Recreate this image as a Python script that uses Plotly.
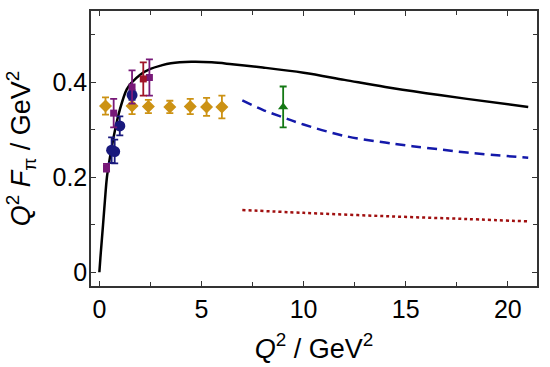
import plotly.graph_objects as go

# Theory curves
curve_x = [0, 0.05, 0.1, 0.18, 0.27, 0.37, 0.5, 0.77, 1.0, 1.34, 1.6, 2.0, 2.5, 3.0, 3.5, 4.5, 5.5, 6.5, 8, 10, 12, 14, 16, 18, 21]
curve_y = [0, 0.03, 0.057, 0.1, 0.15, 0.2, 0.237, 0.3, 0.342, 0.385, 0.4, 0.416, 0.428, 0.435, 0.44, 0.443, 0.442, 0.438, 0.431, 0.42, 0.405, 0.39, 0.377, 0.365, 0.348]

dash_x = [7, 8, 9, 10, 12, 14, 15, 16, 18, 21]
dash_y = [0.362, 0.342, 0.326, 0.311, 0.287, 0.273, 0.267, 0.262, 0.252, 0.241]

dot_x = [7, 10, 14, 18, 21]
dot_y = [0.131, 0.125, 0.118, 0.112, 0.107]

# Data sets
gold_x = [0.3, 1.6, 2.4, 3.45, 4.45, 5.25, 6.0]
gold_y = [0.35, 0.35, 0.349, 0.348, 0.349, 0.348, 0.348]
gold_e = [0.018, 0.017, 0.014, 0.013, 0.016, 0.019, 0.024]

purple_x = [0.35, 0.7, 1.6, 2.45]
purple_y = [0.22, 0.335, 0.39, 0.41]
purple_e = [0.008, 0.03, 0.035, 0.038]

red_x = [2.15]
red_y = [0.407]
red_e = [0.035]

navy_x = [0.6, 0.75, 1.0, 1.6]
navy_y = [0.257, 0.254, 0.308, 0.373]
navy_e = [0.027, 0.025, 0.02, 0.01]

green_x = [9.0]
green_y = [0.348]
green_e = [0.043]

GOLD = "rgb(204,146,20)"
PURPLE = "rgb(120,25,120)"
RED = "rgb(160,20,40)"
NAVY = "rgb(25,25,125)"
GREEN = "rgb(20,120,20)"

fig = go.Figure()

fig.add_trace(go.Scatter(x=dot_x, y=dot_y, mode="lines", line=dict(color="rgb(160,15,15)", width=2.5, dash="3px,3px", shape="spline")))
fig.add_trace(go.Scatter(x=dash_x, y=dash_y, mode="lines", line=dict(color="rgb(20,25,170)", width=2.5, dash="10px,6px", shape="spline")))
fig.add_trace(go.Scatter(x=curve_x, y=curve_y, mode="lines", line=dict(color="black", width=2.5, shape="spline")))

def pts(x, y, e, color, symbol, size):
    return go.Scatter(
        x=x, y=y, mode="markers",
        marker=dict(color=color, symbol=symbol, size=size, line=dict(width=0)),
        error_y=dict(type="data", array=e, visible=True, color=color, thickness=1.8, width=3.5),
    )

fig.add_trace(pts(gold_x, gold_y, gold_e, GOLD, "diamond", 10))
fig.add_trace(pts(navy_x, navy_y, navy_e, NAVY, "circle", 11))
fig.add_trace(pts(purple_x, purple_y, purple_e, PURPLE, "square", 7))
fig.add_trace(pts(red_x, red_y, red_e, RED, "square", 7))
fig.add_trace(pts(green_x, green_y, green_e, GREEN, "triangle-up", 9))

FAM = "Liberation Sans, Arial, sans-serif"
font = dict(family=FAM, size=25, color="black")

axis_common = dict(
    showgrid=False, zeroline=False, showline=True, linecolor="#333", linewidth=1.5,
    mirror="ticks", ticks="inside", ticklen=5, tickwidth=1.3, tickcolor="#333",
    tickfont=font, automargin=False,
)

fig.update_layout(
    width=550, height=367,
    margin=dict(l=91, r=13, t=11, b=81),
    paper_bgcolor="white", plot_bgcolor="white",
    showlegend=False,
    font=font,
    xaxis=dict(
        range=[-0.41, 21.43], tickvals=[0, 5, 10, 15, 20],
        minor=dict(ticks="inside", tickvals=[2.5, 7.5, 12.5, 17.5], ticklen=4, tickwidth=1.3, tickcolor="#333"),
        title=dict(text="<i>Q</i><sup>2</sup> / GeV<sup>2</sup>", font=dict(family=FAM, size=27), standoff=17),
        **axis_common,
    ),
    yaxis=dict(
        range=[-0.029, 0.55], tickvals=[0, 0.2, 0.4], ticktext=["0", "0.2", "0.4"],
        minor=dict(ticks="inside", tickvals=[0.1, 0.3, 0.5], ticklen=4, tickwidth=1.3, tickcolor="#333"),
        ticklabelstandoff=-3,
        title=dict(text="<i>Q</i><sup>2</sup> <i>F</i><sub>π</sub> / GeV<sup>2</sup>", font=dict(family=FAM, size=27), standoff=14),
        **axis_common,
    ),
)

fig.write_html("out.html", config={"displayModeBar": False}, post_script="document.body.style.margin='0';")
